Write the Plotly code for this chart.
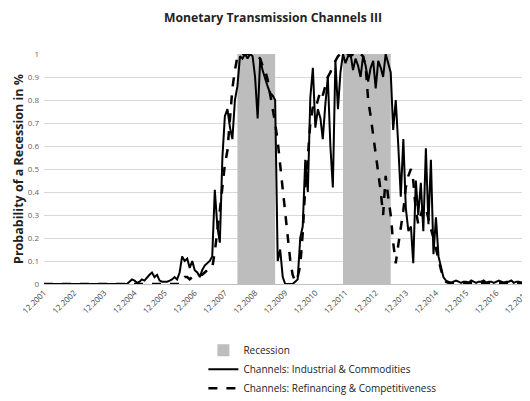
import pandas as pd
import plotly.graph_objects as go

# monthly observations, 12.2001 .. 12.2017
months = pd.date_range("2001-12-01", "2017-12-01", freq="MS")

# Channels: Industrial & Commodities (solid)
industrial = (
    [0.0] * 34
    + [0.01, 0.02, 0.015, 0.005, 0.01, 0.02, 0.015, 0.03, 0.04, 0.05,
       0.03, 0.04, 0.015, 0.01, 0.01, 0.01, 0.015, 0.02, 0.03, 0.02,
       0.05, 0.12, 0.10, 0.11, 0.07, 0.10, 0.06, 0.05, 0.03, 0.06,
       0.08, 0.09, 0.10, 0.12, 0.41, 0.25, 0.18, 0.55, 0.73, 0.76,
       0.68, 0.63, 0.80, 0.86, 0.99, 0.98, 1.00, 0.98, 1.00, 0.99,
       0.90, 0.72, 0.98, 0.93, 0.89, 0.86, 0.83, 0.82, 0.80, 0.10,
       0.15, 0.03, 0.0, 0.0, 0.0, 0.0, 0.01, 0.02, 0.20, 0.25,
       0.54, 0.40, 0.81, 0.94, 0.68, 0.76, 0.72, 0.63, 0.78, 0.90,
       0.60, 0.42, 0.97, 0.76, 0.92, 1.00, 0.96, 0.99, 1.00, 0.93,
       0.98, 0.95, 0.90, 0.99, 0.95, 0.88, 0.94, 0.97, 0.85, 0.97,
       0.94, 0.90, 1.00, 0.96, 0.92, 0.67, 0.80, 0.60, 0.38, 0.63,
       0.33, 0.23, 0.25, 0.09, 0.45, 0.30, 0.44, 0.23, 0.59, 0.26,
       0.54, 0.13, 0.29, 0.12, 0.07, 0.03, 0.015]
    + [0.01, 0.005, 0.01, 0.015, 0.01, 0.005, 0.01, 0.01, 0.005, 0.015,
       0.01, 0.005, 0.01, 0.01, 0.015, 0.005, 0.01, 0.01, 0.005, 0.01,
       0.015, 0.01, 0.005, 0.01, 0.01, 0.015, 0.005, 0.01, 0.01, 0.005,
       0.01, 0.01]
)

# Channels: Refinancing & Competitiveness (dashed)
refinancing = (
    [0.0] * 55
    + [0.02, 0.03, 0.03, 0.02, 0.03, 0.03, 0.04, 0.04, 0.04,
       0.05, 0.06, 0.06, 0.07, 0.14, 0.22, 0.32, 0.42, 0.52, 0.58,
       0.72, 0.85, 0.93, 0.99, 1.00, 1.00, 1.00, 1.00, 1.00, 1.00,
       1.00, 0.99, 0.98, 0.95, 0.93, 0.89, 0.83, 0.77, 0.70, 0.62,
       0.52, 0.42, 0.30, 0.20, 0.10, 0.04, 0.01, 0.03, 0.08, 0.22,
       0.42, 0.55, 0.70, 0.77, 0.76, 0.80, 0.84, 0.82, 0.86, 0.90,
       0.92, 0.95, 0.97, 0.99, 1.00, 0.99, 1.00, 1.00, 0.99, 1.00,
       1.00, 0.99, 1.00, 0.99, 0.95, 0.80, 0.73, 0.65, 0.58, 0.50,
       0.40, 0.30, 0.47, 0.38, 0.30, 0.18, 0.09, 0.17, 0.24, 0.32,
       0.42, 0.47, 0.50, 0.45, 0.32, 0.26, 0.30, 0.34, 0.33, 0.28,
       0.24, 0.20, 0.15, 0.10, 0.06, 0.03, 0.01]
    + [0.005] * 32
)

# recession spans (start, end)
recession_periods = [("2008-05-01", "2009-08-01"), ("2011-11-01", "2013-06-01")]

tick_years = list(range(2001, 2018))
tick_vals = [pd.Timestamp(f"{y}-12-01") for y in tick_years]
tick_text = [f"12.{y}" for y in tick_years]

y_vals = [0, 0.1, 0.2, 0.3, 0.4, 0.5, 0.6, 0.7, 0.8, 0.9, 1]
y_text = ["0", "0.1", "0.2", "0.3", "0.4", "0.5", "0.6", "0.7", "0.8", "0.9", "1"]

REC_GRAY = "#bdbdbd"

# one bar per recession span, starting at the span start
rec_x = [pd.Timestamp(s) for s, e in recession_periods]
rec_w = [(pd.Timestamp(e) - pd.Timestamp(s)).total_seconds() * 1000 for s, e in recession_periods]

fig = go.Figure()
fig.add_trace(go.Bar(x=rec_x, y=[1] * len(rec_x), width=rec_w, offset=0,
                     name="Recession", hoverinfo="skip",
                     marker=dict(color=REC_GRAY, line=dict(width=0))))
fig.add_trace(go.Scatter(x=months, y=industrial, mode="lines",
                         name="Channels: Industrial & Commodities",
                         line=dict(color="black", width=2)))
fig.add_trace(go.Scatter(x=months, y=refinancing, mode="lines",
                         name="Channels: Refinancing & Competitiveness",
                         line=dict(color="black", width=2.5, dash="dash")))

fig.update_layout(
    width=530, height=401,
    margin=dict(l=36, r=11, t=46, b=125, autoexpand=False),
    paper_bgcolor="white", plot_bgcolor="white",
    font=dict(family="Open Sans, Liberation Sans, sans-serif", color="#333"),
    title=dict(text="<b>Monetary Transmission Channels III</b>", x=0.5, xanchor="center",
               y=0.976, yanchor="middle", font=dict(size=12.2, color="#222")),
    showlegend=True,
    legend=dict(x=0.33, y=-0.225, xanchor="left", yanchor="top",
                font=dict(size=10, color="#222"), tracegroupgap=0,
                itemwidth=30, bgcolor="rgba(0,0,0,0)"),
)
fig.update_xaxes(type="date", range=[pd.Timestamp("2001-12-01"), pd.Timestamp("2017-12-08")],
                 tickvals=tick_vals, ticktext=tick_text, tickangle=-45,
                 tickfont=dict(size=8, color="#444"), showgrid=False,
                 showline=True, linecolor="#bfbfbf", ticks="", automargin=False,
                 ticklabeloverflow="allow")
fig.update_yaxes(range=[0, 1.0], tickvals=y_vals, ticktext=y_text,
                 tickfont=dict(size=8, color="#666"), gridcolor="#d9d9d9",
                 zeroline=False, ticks="", ticklen=0, automargin=False,
                 ticklabelstandoff=4,
                 title=dict(text="<b>Probability of a Recession in %</b>",
                            font=dict(size=12.5, color="#222"), standoff=1))

fig.write_html("out.html")
